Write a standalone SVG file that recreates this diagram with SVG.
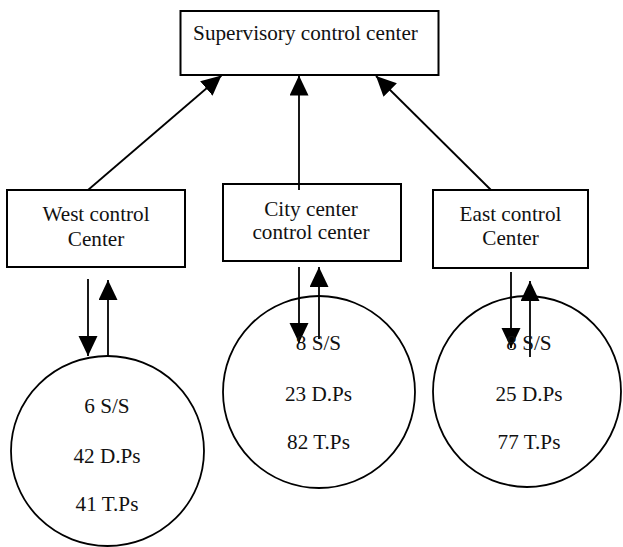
<svg xmlns="http://www.w3.org/2000/svg" width="623" height="547" viewBox="0 0 623 547">
<style>
.box{fill:none;stroke:#000;stroke-width:2}
.circ{fill:none;stroke:#000;stroke-width:1.8}
.ln{stroke:#000;stroke-width:1.8;fill:none}
text{font-family:"Liberation Serif","Times New Roman",serif;font-size:21.2px;fill:#111;text-anchor:middle}
</style>
<defs>
<marker id="ah" markerUnits="userSpaceOnUse" markerWidth="20" markerHeight="20" refX="20" refY="9.5" orient="auto">
<path d="M0,0 L20,9.5 L0,19 z" fill="#000"/>
</marker>
</defs>
<rect width="623" height="547" fill="#fff"/>
<g id="connectors">
<line class="ln" x1="88" y1="190" x2="221.5" y2="75.5" marker-end="url(#ah)"/>
<line class="ln" x1="299" y1="190" x2="299" y2="75.5" marker-end="url(#ah)"/>
<line class="ln" x1="491" y1="190" x2="376" y2="76" marker-end="url(#ah)"/>
<line class="ln" x1="88" y1="279" x2="88" y2="356" marker-end="url(#ah)"/>
<line class="ln" x1="108" y1="356" x2="108" y2="280" marker-end="url(#ah)"/>
<line class="ln" x1="299" y1="267" x2="299" y2="343" marker-end="url(#ah)"/>
<line class="ln" x1="319" y1="339" x2="319" y2="267" marker-end="url(#ah)"/>
<line class="ln" x1="511" y1="272" x2="511" y2="348" marker-end="url(#ah)"/>
<line class="ln" x1="530" y1="357" x2="530" y2="281" marker-end="url(#ah)"/>
</g>
<g id="supervisory">
<rect class="box" x="180.5" y="11" width="258" height="64"/>
<text x="305.5" y="39.5">Supervisory control center</text>
</g>
<g id="west">
<rect class="box" x="7" y="190" width="178" height="77"/>
<text x="96" y="220.5">West control</text>
<text x="96" y="245.5">Center</text>
</g>
<g id="city">
<rect class="box" x="223" y="184" width="178" height="77"/>
<text x="311" y="215.5">City center</text>
<text x="311" y="238.5">control center</text>
</g>
<g id="east">
<rect class="box" x="433" y="190" width="155" height="78"/>
<text x="510.5" y="220.5">East control</text>
<text x="510.5" y="244.5">Center</text>
</g>
<g id="west-area">
<ellipse class="circ" cx="107.5" cy="451" rx="96.5" ry="95"/>
<text x="107" y="412.5">6 S/S</text>
<text x="107" y="462.5">42 D.Ps</text>
<text x="107" y="510.5">41 T.Ps</text>
</g>
<g id="city-area">
<ellipse class="circ" cx="319" cy="392" rx="96" ry="96"/>
<text x="318.5" y="349.5">8 S/S</text>
<text x="318.5" y="400.5">23 D.Ps</text>
<text x="318.5" y="448.5">82 T.Ps</text>
</g>
<g id="east-area">
<ellipse class="circ" cx="527" cy="391.5" rx="94" ry="95.5"/>
<text x="529" y="349.5">8 S/S</text>
<text x="529" y="400.5">25 D.Ps</text>
<text x="529" y="448.5">77 T.Ps</text>
</g>
</svg>
